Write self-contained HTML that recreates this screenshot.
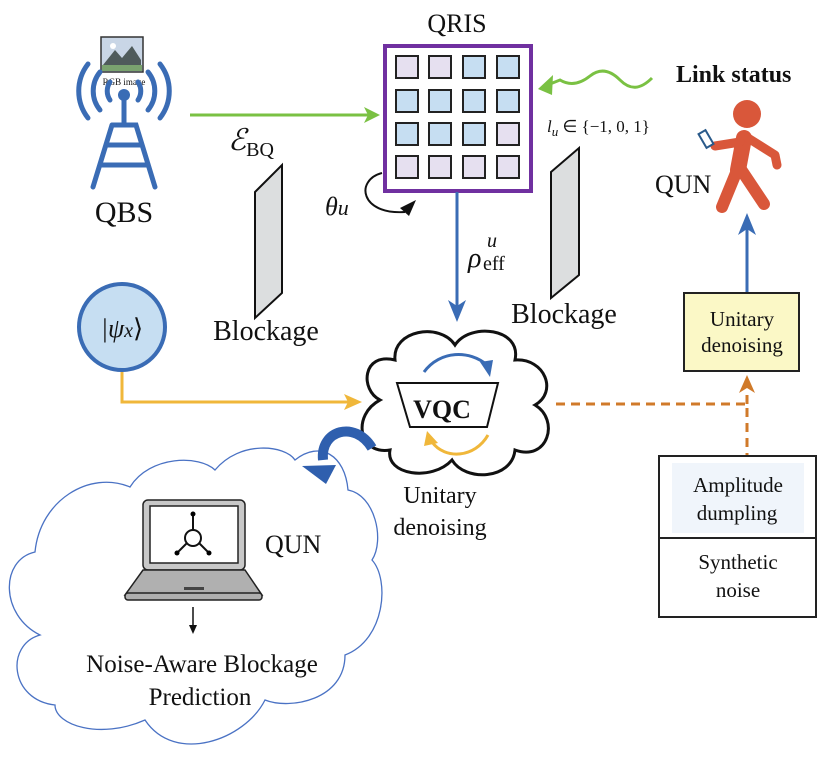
<!DOCTYPE html>
<html><head><meta charset="utf-8"><style>
html,body{margin:0;padding:0;background:#fff;}
svg{display:block;}
text{font-family:"Liberation Serif",serif;fill:#111;}
</style></head><body>
<svg width="824" height="763" viewBox="0 0 824 763" xmlns="http://www.w3.org/2000/svg">
<!-- QBS -->
<rect x="101" y="37" width="42" height="35" fill="#c9d6e6" stroke="#333" stroke-width="1.5"/>
<polygon points="103,65 115,50 122,58 132,46 141,60 141,65" fill="#4f5b5b"/>
<rect x="102" y="65" width="40" height="6" fill="#7aa36f"/>
<circle cx="113" cy="46" r="3" fill="#fff"/>
<text x="124" y="85" font-size="9" text-anchor="middle">RGB image</text>
<g fill="none" stroke="#3a6cb5" stroke-width="5" stroke-linecap="round">
<path d="M100,72 A30,30 0 0 0 100,110"/><path d="M148,72 A30,30 0 0 1 148,110"/>
<path d="M88,64 A44,44 0 0 0 88,118"/><path d="M160,64 A44,44 0 0 1 160,118"/>
<path d="M110,82 A16,16 0 0 0 110,100"/><path d="M138,82 A16,16 0 0 1 138,100"/>
<line x1="124" y1="95" x2="124" y2="125"/>
<path d="M112,125 L136,125 L155,187 M112,125 L93,187 M108,145 L140,145 M102,165 L146,165"/>
</g>
<circle cx="124" cy="95" r="6" fill="#3a6cb5"/>
<text x="124" y="222" font-size="30" text-anchor="middle">QBS</text>
<!-- green arrow -->
<line x1="190" y1="115" x2="372" y2="115" stroke="#7ac143" stroke-width="3"/>
<polygon points="380,115 364,107 368,115 364,123" fill="#7ac143"/>
<text x="228" y="150" font-size="30" font-style="italic">ℰ<tspan font-size="20" font-style="normal" dy="6">BQ</tspan></text>
<!-- blockage 1 -->
<polygon points="255,192 282,165 282,293 255,318" fill="#dcdedf" stroke="#111" stroke-width="2"/>
<text x="266" y="340" font-size="28" text-anchor="middle">Blockage</text>
<!-- QRIS -->
<text x="457" y="32" font-size="26" text-anchor="middle">QRIS</text>
<rect x="385" y="46" width="146" height="145" fill="#fff" stroke="#7030a0" stroke-width="4"/>
<g stroke="#222" stroke-width="2">
<rect x="396" y="56" width="22" height="22" fill="#e6e0f0"/><rect x="429" y="56" width="22" height="22" fill="#e6e0f0"/><rect x="463" y="56" width="22" height="22" fill="#c6def2"/><rect x="497" y="56" width="22" height="22" fill="#c6def2"/>
<rect x="396" y="90" width="22" height="22" fill="#c6def2"/><rect x="429" y="90" width="22" height="22" fill="#c6def2"/><rect x="463" y="90" width="22" height="22" fill="#c6def2"/><rect x="497" y="90" width="22" height="22" fill="#c6def2"/>
<rect x="396" y="123" width="22" height="22" fill="#c6def2"/><rect x="429" y="123" width="22" height="22" fill="#c6def2"/><rect x="463" y="123" width="22" height="22" fill="#c6def2"/><rect x="497" y="123" width="22" height="22" fill="#e6e0f0"/>
<rect x="396" y="156" width="22" height="22" fill="#e6e0f0"/><rect x="429" y="156" width="22" height="22" fill="#e6e0f0"/><rect x="463" y="156" width="22" height="22" fill="#e6e0f0"/><rect x="497" y="156" width="22" height="22" fill="#e6e0f0"/>
</g>
<path d="M382,173 C355,180 360,215 405,212" fill="none" stroke="#111" stroke-width="2"/>
<polygon points="416,200 400,208 409,216" fill="#111"/>
<text x="325" y="215" font-size="26" font-style="italic">θ<tspan font-size="22">u</tspan></text>
<!-- blue down arrow -->
<line x1="457" y1="192" x2="457" y2="308" stroke="#3a6cb5" stroke-width="3"/>
<polygon points="457,322 448,300 457,306 466,300" fill="#3a6cb5"/>
<text x="468" y="267" font-size="28" font-style="italic">ρ</text>
<text x="487" y="247" font-size="20" font-style="italic">u</text>
<text x="483" y="270" font-size="20">eff</text>
<!-- blockage 2 -->
<polygon points="551,172 579,148 579,275 551,298" fill="#dcdedf" stroke="#111" stroke-width="2"/>
<text x="564" y="323" font-size="28" text-anchor="middle">Blockage</text>
<!-- wavy -->
<path d="M652,78 C640,90 630,90 620,80 C610,70 600,68 590,76 C580,84 570,86 560,80 L545,86" fill="none" stroke="#7ac143" stroke-width="3"/>
<polygon points="538,89 553,75 552,95" fill="#7ac143"/>
<text x="676" y="82" font-size="24" font-weight="bold" fill="#222">Link status</text>
<text x="547" y="132" font-size="17" font-style="italic">l<tspan font-size="13" dy="4">u</tspan><tspan dy="-4" font-style="normal">  ∈  {−1, 0, 1}</tspan></text>
<!-- person -->
<circle cx="747" cy="114" r="14" fill="#d9573a"/>
<g stroke="#d9573a" stroke-linecap="round" stroke-linejoin="round" fill="none">
<path d="M744,138 L738,170" stroke-width="16"/>
<path d="M738,168 L722,207 M740,168 L764,204" stroke-width="12"/>
<path d="M740,142 L715,146 M748,138 L775,155 L777,165" stroke-width="9"/>
</g>
<rect x="702" y="131" width="8" height="16" fill="#fff" stroke="#2a5a8a" stroke-width="2" transform="rotate(-30 706 139)"/>
<text x="655" y="193" font-size="26">QUN</text>
<!-- blue up arrow -->
<line x1="747" y1="293" x2="747" y2="228" stroke="#3a6cb5" stroke-width="3"/>
<polygon points="747,213 738,235 747,229 756,235" fill="#3a6cb5"/>
<!-- unitary box -->
<rect x="684" y="293" width="115" height="78" fill="#fbf8c6" stroke="#222" stroke-width="2"/>
<text x="742" y="326" font-size="21" text-anchor="middle">Unitary</text>
<text x="742" y="352" font-size="21" text-anchor="middle">denoising</text>
<!-- dashed -->
<path d="M556,404 L747,404 L747,456" fill="none" stroke="#d07a2a" stroke-width="3" stroke-dasharray="9,6"/>
<line x1="747" y1="404" x2="747" y2="390" stroke="#d07a2a" stroke-width="3" stroke-dasharray="9,6"/>
<polygon points="747,375 739,393 747,388 755,393" fill="#d07a2a"/>
<!-- noise box -->
<rect x="659" y="456" width="157" height="161" fill="#fff" stroke="#222" stroke-width="2"/>
<rect x="672" y="463" width="132" height="70" fill="#f0f5fb"/>
<line x1="659" y1="538" x2="816" y2="538" stroke="#222" stroke-width="2"/>
<text x="738" y="492" font-size="21" text-anchor="middle">Amplitude</text>
<text x="737" y="520" font-size="21" text-anchor="middle">dumpling</text>
<text x="738" y="569" font-size="21" text-anchor="middle">Synthetic</text>
<text x="738" y="597" font-size="21" text-anchor="middle">noise</text>
<!-- psi -->
<circle cx="122" cy="327" r="43" fill="#c6def2" stroke="#3a6cb5" stroke-width="4"/>
<text x="122" y="337" font-size="26" text-anchor="middle" font-style="italic">|ψ<tspan font-size="20">x</tspan><tspan font-style="normal">⟩</tspan></text>
<path d="M122,372 L122,402 L350,402" fill="none" stroke="#f0b73a" stroke-width="3"/>
<polygon points="362,402 344,394 348,402 344,410" fill="#f0b73a"/>
<!-- VQC cloud -->
<path d="M380,400 C360,390 362,352 395,360 C392,330 440,322 455,345 C470,322 522,328 515,360 C545,358 558,392 535,405 C560,420 548,462 515,450 C512,480 465,482 452,460 C432,482 385,475 390,450 C358,455 352,415 380,400 Z" fill="#fff" stroke="#111" stroke-width="3"/>
<path d="M424,372 C440,350 470,350 487,365" fill="none" stroke="#3a6cb5" stroke-width="3"/>
<polygon points="490,377 480,362 493,360" fill="#3a6cb5"/>
<polygon points="397,383 498,383 487,427 410,427" fill="#fff" stroke="#111" stroke-width="2"/>
<text x="442" y="418" font-size="26" font-weight="bold" text-anchor="middle">VQC</text>
<path d="M488,435 C475,458 445,460 432,442" fill="none" stroke="#f0b73a" stroke-width="3"/>
<polygon points="427,431 424,446 438,443" fill="#f0b73a"/>
<text x="440" y="503" font-size="24" text-anchor="middle">Unitary</text>
<text x="440" y="535" font-size="24" text-anchor="middle">denoising</text>
<!-- blue cloud -->
<path d="M35,552 C40,500 90,470 130,487 C150,455 200,455 215,470 C240,440 285,445 295,460 C320,440 345,455 348,490 C375,495 385,540 372,560 C390,580 385,640 345,655 C345,700 290,710 265,700 C245,740 175,765 145,720 C100,740 55,725 55,705 C10,700 5,645 40,635 C0,615 0,560 35,552 Z" fill="#fff" stroke="#4a72c4" stroke-width="1.3"/>
<!-- big blue curved arrow -->
<path d="M372,448 C355,420 320,430 323,460" fill="none" stroke="#2f5fae" stroke-width="10"/>
<polygon points="302,466 336,465 326,484" fill="#2f5fae"/>
<!-- laptop -->
<rect x="143" y="500" width="102" height="70" rx="5" fill="#c8c8c8" stroke="#222" stroke-width="1.5"/>
<rect x="150" y="506" width="88" height="57" fill="#fff" stroke="#222" stroke-width="1.5"/>
<path d="M143,570 L245,570 L262,595 L125,595 Z" fill="#b0b0b0" stroke="#222" stroke-width="1.5"/>
<rect x="125" y="593" width="137" height="7" rx="3" fill="#b0b0b0" stroke="#222" stroke-width="1.5"/>
<rect x="184" y="587" width="20" height="3" fill="#444"/>
<circle cx="193" cy="538" r="8" fill="none" stroke="#111" stroke-width="2"/>
<path d="M193,530 L193,515 M187,543 L178,552 M199,543 L208,552" stroke="#111" stroke-width="2"/>
<circle cx="193" cy="514" r="2.5"/><circle cx="177" cy="553" r="2.5"/><circle cx="209" cy="553" r="2.5"/>
<text x="265" y="553" font-size="26">QUN</text>
<line x1="193" y1="607" x2="193" y2="630" stroke="#111" stroke-width="1.5"/>
<polygon points="193,634 189,625 197,625" fill="#111"/>
<text x="202" y="672" font-size="25" text-anchor="middle">Noise-Aware Blockage</text>
<text x="200" y="705" font-size="25" text-anchor="middle">Prediction</text>
</svg>
</body></html>
